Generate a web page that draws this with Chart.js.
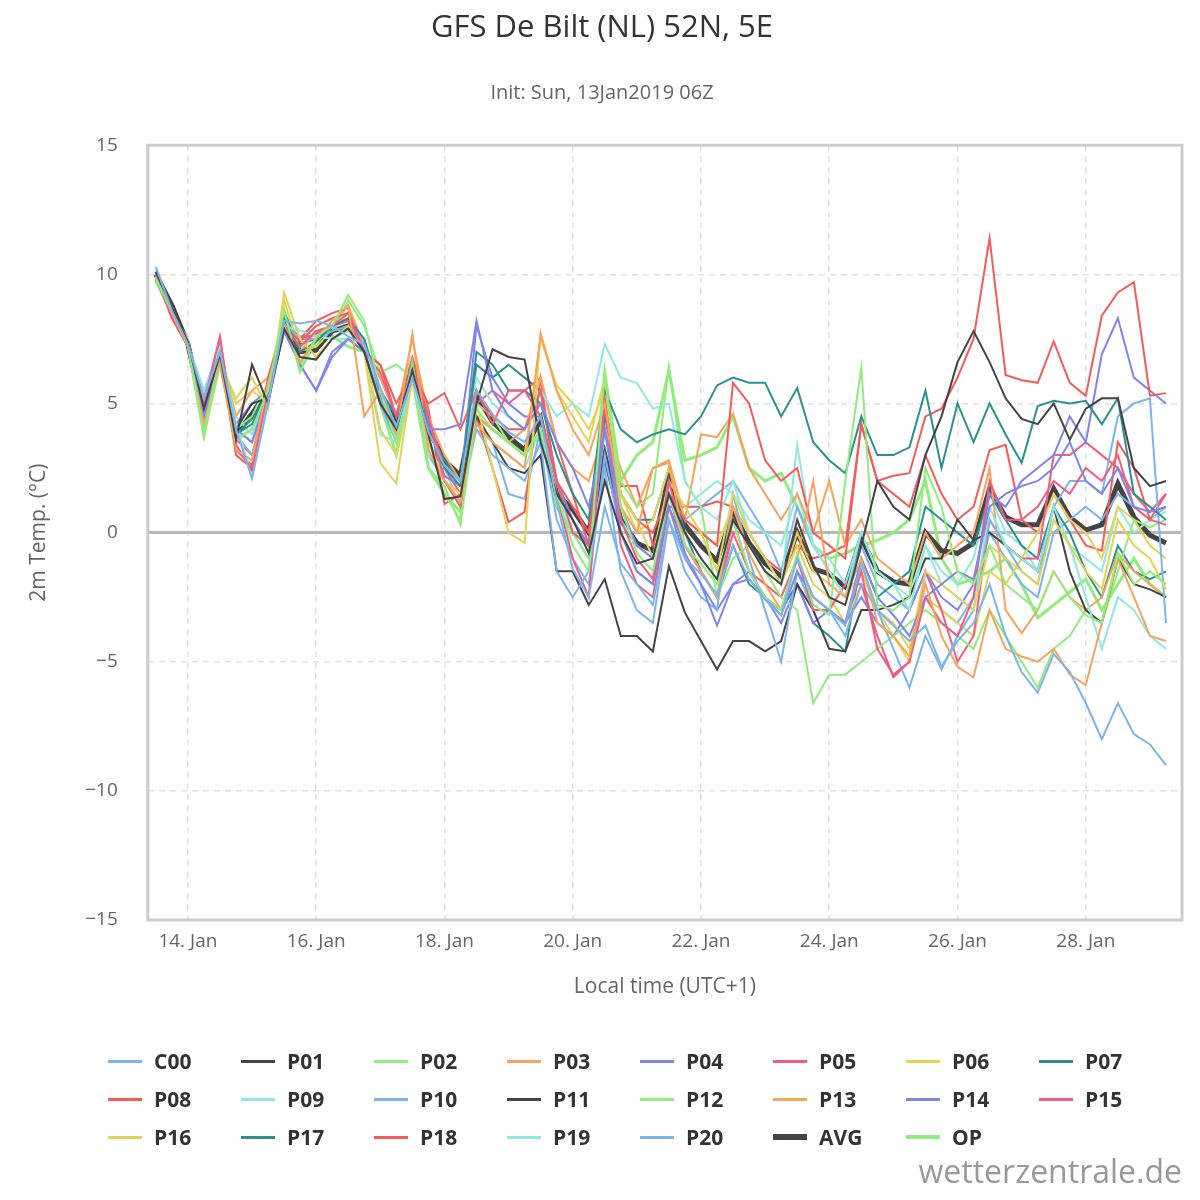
<!DOCTYPE html>
<html>
<head>
<meta charset="utf-8">
<script src="https://cdn.jsdelivr.net/npm/chart.js@4/dist/chart.umd.min.js"></script>
<style>
  body { margin: 0; background: #fff; }
  #wrap { position: relative; width: 1200px; height: 1200px; }
  #credit { position: absolute; right: 18px; bottom: 8px; font: 32px "Open Sans", sans-serif; color: #999; }
  #legend { position: absolute; left: 108px; top: 1048px; width: 1070px; display: grid;
            grid-template-columns: repeat(8, 133px); row-gap: 12px;
            font: bold 21px "Open Sans", sans-serif; color: #333; }
  #legend div { display: flex; align-items: center; height: 26px; }
  #legend span.sw { display: inline-block; width: 34px; margin-right: 12px; }
</style>
</head>
<body>
<div id="wrap">
  <canvas id="c" width="1200" height="1200"></canvas>
  <div id="legend"></div>
  <div id="credit">wetterzentrale.de</div>
</div>
<script>
// hours after 14 Jan 00:00 local time, one value every 6 h
const hours = [];
for (let i = 0; i < 64; i++) hours.push(-12 + 6 * i);

const tickHours = [0, 48, 96, 144, 192, 240, 288, 336];
const tickLabels = ['14. Jan', '16. Jan', '18. Jan', '20. Jan', '22. Jan', '24. Jan', '26. Jan', '28. Jan'];
const yTicks = [-15, -10, -5, 0, 5, 10, 15];

// members
const C00 = [10.3,8.6,7.3,5.2,7.0,4.0,2.1,5.0,8.2,8.1,8.2,8.0,7.6,7.3,5.6,4.1,6.0,3.9,2.6,2.0, 5.5,4.6,3.9,3.5,4.5,1.2,-1.4,-2.5,1.0,-1.2,-2.0,-2.8,0.5,-1.0,-1.6,-2.4,-0.5,-1.8,-2.6,-3.2,-1.0,-2.5,-3.0,-3.6,-1.2,-3.0,-3.6,-4.2,-3.6,-5.2,-4.2,-3.5,-2.0,-4.0,-5.4,-6.2,-4.7,-5.4,-6.6,-8.0,-6.6,-7.8,-8.2,-9.0];
const P01 = [10.1,8.7,7.4,4.8,6.9,3.6,6.5,5.0,7.9,6.8,6.7,7.5,7.9,7.0,5.0,4.0,6.3,3.8,1.3,1.4, 5.0,7.1,6.8,6.7,3.5,1.5,0.5,-0.8,2.0,0.0,-1.2,-1.0,1.5,0.0,-1.0,-1.8,0.5,-0.5,-1.5,-2.0,0.5,-1.2,-2.5,-2.8,-0.5,2.0,1.0,0.5,3.0,4.5,6.6,7.8,6.6,5.2,4.4,4.2,5.0,3.6,4.8,5.2,5.2,2.5,1.8,2.0];
const P02 = [9.8,8.6,7.3,3.8,7.0,3.6,4.0,5.5,8.6,6.2,7.6,8.0,9.2,8.2,5.5,3.5,6.6,2.5,1.8,0.3, 4.8,4.0,3.5,3.0,4.0,1.5,-0.5,-1.5,6.2,1.0,-0.8,-1.5,1.5,-0.5,-1.2,-2.0,0.5,-1.5,-2.5,-3.0,-0.8,-2.8,-3.2,2.0,6.4,-2.8,-3.0,-2.5,2.5,1.0,-1.5,-2.0,-0.5,-2.0,-2.5,-3.0,-1.5,-2.5,-3.2,-3.5,-0.8,-2.0,-1.5,-2.0];
const P03 = [9.9,8.5,7.2,4.2,6.6,3.2,2.8,5.8,8.0,6.6,7.5,8.2,8.8,4.5,5.5,3.8,7.7,3.2,2.0,1.2, 4.2,3.5,3.0,2.5,7.7,5.5,4.0,3.0,5.0,1.0,0.0,2.5,2.7,-0.5,-1.5,-2.5,1.0,-0.8,-2.0,-3.0,-1.0,2.0,-2.0,-2.5,-1.0,-3.5,-4.0,-4.8,-2.0,-4.0,-5.2,-5.6,-3.0,-4.5,-4.8,-5.0,-4.5,-5.5,-5.9,-3.5,-1.0,-2.5,-4.0,-4.2];
const P04 = [10.0,8.7,7.3,4.5,6.8,4.0,3.5,5.5,7.8,6.5,5.5,7.0,7.5,7.0,5.0,4.0,6.0,4.0,4.0,4.2, 8.2,5.5,4.5,4.0,5.0,3.5,2.5,1.0,4.0,1.0,-0.5,-1.0,1.5,-0.8,-2.0,-3.6,-2.0,-1.8,-2.5,-3.2,-1.5,-2.5,-3.0,-3.5,-1.0,-2.5,-3.2,-4.0,-2.5,-2.0,-1.5,-1.8,1.0,1.5,1.8,2.0,2.5,3.5,2.0,1.5,2.5,1.0,0.8,1.0];
const P05 = [10.0,8.4,7.3,5.0,7.6,3.4,2.4,5.5,8.0,7.2,7.8,8.0,8.5,7.0,6.2,4.5,6.5,4.5,2.0,1.0, 5.5,4.2,5.5,5.5,4.5,2.0,0.0,-0.5,5.2,0.5,-1.0,-1.8,2.0,-0.5,-1.5,-2.5,0.5,-1.5,-2.5,-3.0,-1.0,-3.0,-3.0,-3.5,-1.5,-4.5,-5.5,-5.0,-2.5,-3.5,-4.0,-2.5,2.0,0.5,0.5,1.0,2.0,1.5,2.5,2.0,3.0,1.0,0.5,0.3];
const P06 = [9.9,8.5,7.5,4.0,6.6,5.2,6.0,4.8,9.3,7.5,6.8,7.5,8.0,7.0,2.7,1.9,6.0,3.5,2.0,1.5, 5.0,2.5,0.0,-0.4,7.7,5.5,4.5,3.5,6.0,1.5,0.5,-1.0,2.0,1.0,0.0,-1.5,1.5,0.0,-1.0,-2.0,0.0,-1.5,-2.0,-2.5,-1.5,-3.0,-3.5,-4.5,-1.5,-2.0,-2.5,-3.0,-0.5,-1.0,-1.5,-2.0,0.5,-0.5,-1.5,-2.2,0.5,-0.5,-1.0,-2.2];
const P07 = [9.8,8.6,7.4,4.6,6.8,3.8,4.4,5.4,8.3,7.0,7.4,8.0,8.3,7.5,5.5,4.5,6.6,4.0,2.5,1.8, 7.0,6.5,5.5,5.5,5.0,3.0,1.5,0.5,5.5,4.0,3.5,3.8,4.0,3.8,4.5,5.7,6.0,5.8,5.8,4.5,5.6,3.5,2.8,2.3,4.5,3.0,3.0,3.3,5.5,2.5,5.0,3.5,5.0,3.8,2.7,4.9,5.1,5.0,5.1,4.2,5.2,1.5,1.0,0.5];
const P08 = [9.9,8.3,7.2,5.0,7.0,3.0,2.5,6.0,8.0,7.4,8.0,8.3,8.5,7.0,6.5,5.0,6.2,5.0,5.4,4.0, 5.5,4.5,4.0,4.0,5.5,2.0,1.0,0.0,5.0,1.5,0.5,0.0,1.5,0.5,0.0,-0.5,5.8,5.0,2.8,2.0,2.5,0.0,-0.5,-1.0,4.2,2.0,2.2,2.3,4.5,4.8,6.0,7.5,11.4,6.1,5.9,5.8,7.4,5.8,5.3,8.4,9.3,9.7,5.3,5.4];
const P09 = [10.2,8.6,7.3,5.5,7.2,4.2,2.2,5.2,8.0,7.8,7.6,7.5,7.8,7.2,5.5,3.5,6.0,3.0,2.5,2.0, 6.0,5.0,4.5,4.0,5.5,4.5,5.0,4.5,7.3,6.0,5.8,4.8,5.0,2.0,1.0,0.5,2.0,0.0,-1.0,-2.0,3.4,-0.5,-1.5,-2.5,0.0,-1.5,-2.0,-3.0,-0.5,-2.0,-2.5,-3.0,1.0,-0.5,-1.0,-1.5,1.0,-0.5,-2.5,-4.5,-2.5,-3.0,-4.0,-4.5];
const P10 = [10.0,8.6,7.4,5.0,6.8,3.8,3.0,5.0,8.2,7.5,7.5,7.8,8.0,7.5,5.0,3.5,6.0,3.0,2.0,1.5, 4.0,3.0,2.5,2.0,3.5,-1.5,-2.5,-1.5,2.5,-1.5,-3.0,-3.5,0.5,-1.5,-2.5,-3.0,1.5,-1.0,-3.0,-5.0,-1.5,-3.0,-3.0,-4.0,-2.0,-3.0,-4.5,-6.0,-4.0,-5.3,-4.0,-3.0,0.5,-0.5,-1.5,-2.0,1.0,2.0,2.0,1.5,4.5,5.0,5.2,-3.5];
const P11 = [10.0,8.7,7.3,4.8,6.9,4.0,5.0,5.2,8.0,7.0,7.0,7.8,8.0,7.0,5.5,4.5,6.0,4.0,2.5,2.0, 4.5,3.5,2.5,2.3,3.0,-1.5,-1.5,-2.8,-1.8,-4.0,-4.0,-4.6,-1.3,-3.1,-4.2,-5.3,-4.2,-4.2,-4.6,-4.2,-2.0,-3.0,-4.5,-4.6,-3.0,-3.0,-2.8,-2.5,-1.0,-1.0,0.5,-0.3,0.0,-0.5,-1.0,-1.5,1.0,-1.5,-3.0,-3.5,-1.0,-2.0,-2.2,-2.5];
const P12 = [9.7,8.5,7.2,3.7,6.5,4.0,4.5,5.8,8.5,6.5,7.5,7.8,9.0,8.0,6.2,6.5,6.0,2.5,1.5,0.5, 5.0,4.5,3.5,3.0,4.0,2.0,0.0,-1.0,5.8,2.0,1.0,1.5,6.4,2.0,1.0,-2.5,-1.0,-0.5,-1.5,-2.5,-3.0,-6.6,-5.5,-5.5,-5.0,-4.5,-4.0,-3.5,-3.0,-3.5,-4.0,-4.5,-3.0,-4.0,-5.0,-6.0,-4.5,-4.0,-3.0,-3.5,-1.5,0.5,0.2,0.5];
const P13 = [9.9,8.5,7.4,4.3,7.0,4.5,5.5,6.0,8.2,7.0,7.8,8.0,8.8,7.2,6.0,4.5,7.5,4.5,3.0,2.0, 4.5,4.0,3.5,4.0,6.0,3.5,2.5,2.0,4.0,2.5,1.0,2.5,2.8,0.5,3.8,3.7,4.6,2.5,1.5,0.5,1.5,0.0,2.0,-0.5,0.5,-1.0,-1.5,-2.0,0.0,-1.0,-0.5,0.0,2.5,-3.0,-3.9,-3.0,-1.5,-2.5,-3.0,-2.5,-0.8,-1.5,-2.0,-2.5];
const P14 = [10.1,8.6,7.3,4.8,6.8,4.2,5.0,5.5,7.8,6.5,5.5,6.8,7.5,7.0,5.0,3.8,6.5,4.2,2.2,1.8, 8.0,6.0,5.0,4.5,4.5,2.0,0.5,-0.5,4.0,0.0,-1.5,-2.0,1.0,-1.0,-2.0,-3.0,-2.0,-1.5,-2.5,-3.5,-2.0,-3.5,-3.0,-3.5,-2.5,-3.5,-4.0,-3.0,-1.5,-2.5,-3.0,-2.0,1.5,1.0,2.0,2.5,3.0,4.5,3.5,6.9,8.3,6.0,5.5,5.0];
const P15 = [10.0,8.5,7.3,5.2,7.5,3.6,3.0,5.5,8.2,7.5,7.7,8.0,8.2,7.0,6.0,4.5,6.2,4.5,2.5,1.5, 5.0,5.5,5.0,5.5,6.0,1.5,-1.0,-2.5,5.0,-0.5,-2.0,-2.5,1.0,-0.5,-1.5,-2.5,0.0,-1.5,-2.0,-2.5,-1.0,-2.5,-3.0,-2.0,-2.0,-4.0,-5.6,-5.0,-1.5,-3.0,-5.0,-4.0,0.5,-0.5,-1.0,-1.0,3.0,3.0,3.5,3.0,2.5,1.5,0.8,1.5];
const P16 = [9.9,8.6,7.4,4.5,6.8,5.0,5.5,5.0,9.0,7.0,7.2,7.8,8.5,7.2,4.0,3.0,6.5,3.5,2.0,1.5, 4.5,4.0,3.5,3.0,7.5,5.7,5.0,4.0,5.5,1.5,0.0,0.5,2.5,0.5,0.0,-0.5,1.0,0.0,-1.0,-2.0,-0.5,-2.0,-2.5,-3.5,-2.0,-3.0,-4.0,-5.0,-2.5,-3.0,-3.5,-4.0,-1.5,-2.0,-1.0,0.0,1.5,0.5,0.0,-1.0,1.0,0.5,-0.5,-1.0];
const P17 = [9.8,8.6,7.3,4.4,6.7,3.8,4.2,5.5,8.5,7.3,7.5,8.0,8.2,7.2,5.5,4.0,6.5,4.0,2.8,2.0, 6.5,6.0,6.5,6.0,5.5,2.0,0.5,-0.5,4.5,1.5,0.5,0.5,2.5,0.0,-1.5,-2.5,-0.5,-2.0,-2.5,-3.0,-2.0,-3.5,-4.0,-4.6,-1.0,-2.5,-2.0,-1.5,1.0,0.5,0.0,-0.5,1.5,0.5,-0.5,-1.0,1.0,0.0,-1.5,-2.5,-0.5,-1.5,-1.8,-1.5];
const P18 = [10.0,8.4,7.3,5.0,7.3,3.2,2.6,5.8,8.3,7.5,8.2,8.5,8.7,7.0,6.5,4.5,6.8,4.8,1.1,1.5, 4.5,2.5,0.4,0.8,6.0,3.5,1.5,-0.5,4.8,1.8,1.8,-0.5,1.0,1.0,1.0,1.2,1.0,0.0,-1.0,-1.5,-0.5,-1.0,-0.8,-0.5,4.2,2.0,1.5,1.0,3.0,1.5,0.5,1.0,3.2,3.4,0.5,0.0,1.5,0.5,-0.5,-0.7,3.5,2.5,0.5,1.5];
const P19 = [10.1,8.7,7.3,5.5,7.0,4.5,3.8,5.5,8.4,7.8,7.8,7.5,7.5,7.0,3.8,3.5,6.0,3.5,2.5,1.0, 4.0,3.5,3.0,2.5,4.0,1.5,0.0,-1.0,4.0,0.5,-0.5,-1.0,2.0,1.0,1.5,2.0,1.5,0.5,0.0,-0.5,1.5,-0.5,-1.0,-2.0,0.0,-1.5,-2.0,-2.5,-0.5,-1.5,-2.0,-1.0,1.5,0.0,-0.5,-1.5,0.5,-0.5,-1.0,-1.5,1.0,0.0,0.5,0.8];
const P20 = [10.0,8.6,7.3,5.2,7.0,4.0,3.5,5.2,8.0,7.6,7.6,7.8,8.0,7.3,5.2,3.5,6.0,3.5,2.2,1.8, 4.5,3.5,1.5,1.3,4.0,0.5,-1.0,-2.0,3.0,0.0,-1.5,-2.0,1.5,0.5,1.0,1.5,2.0,1.0,0.0,-1.5,1.0,-0.5,-1.5,-2.5,-0.5,-2.0,-2.5,-3.0,-1.5,-3.0,-3.5,-2.5,0.0,-1.0,-2.0,-2.5,0.0,0.5,1.0,0.5,1.5,1.0,0.5,1.0];
const AVG = [10.0,8.8,7.3,4.6,6.8,3.8,4.6,5.5,8.0,7.0,7.1,7.8,8.0,7.2,5.3,4.4,6.4,4.0,2.8,2.2, 5.3,4.3,3.7,3.2,4.4,1.5,0.9,0.0,3.0,0.5,-0.4,-0.7,2.2,0.3,-0.5,-1.1,0.8,-0.4,-1.2,-1.7,0.0,-1.4,-1.6,-2.1,-0.2,-1.5,-1.9,-2.0,0.0,-0.7,-0.8,-0.4,1.7,0.6,0.3,0.3,1.7,0.6,0.1,0.3,1.9,0.6,-0.1,-0.4];
const OP = [9.8,8.5,7.3,3.8,6.9,3.6,4.0,5.5,8.6,6.3,7.4,7.6,7.2,7.0,5.0,3.0,6.0,2.5,1.5,0.8, 4.5,4.0,3.5,3.0,3.8,1.0,0.0,-0.5,6.2,2.0,3.0,3.5,6.3,2.8,3.0,3.3,4.5,2.5,2.0,2.3,1.0,-0.5,-1.0,-0.8,-0.5,-0.3,0.0,0.5,2.0,-1.0,-2.0,-1.8,-1.5,-1.0,-2.0,-3.3,-2.8,-2.3,-1.8,-3.0,-2.0,-1.0,-2.0,-2.5];

const names = ['C00','P01','P02','P03','P04','P05','P06','P07','P08','P09','P10','P11','P12','P13','P14','P15','P16','P17','P18','P19','P20','AVG','OP'];
const series = [C00,P01,P02,P03,P04,P05,P06,P07,P08,P09,P10,P11,P12,P13,P14,P15,P16,P17,P18,P19,P20,AVG,OP];
const palette = ['#7cb5ec','#434348','#90ed7d','#f7a35c','#8085e9','#f15c80','#e4d354','#2b908f','#f45b5b','#91e8e1'];

const datasets = series.map((vals, k) => {
    let color = palette[k % 10];
    let width = 2;
    if (names[k] === 'AVG') { color = '#434348'; width = 5; }
    if (names[k] === 'OP') { color = '#90ed7d'; width = 3; }
    return {
        label: names[k],
        data: vals.map((v, i) => ({ x: hours[i], y: v })),
        borderColor: color,
        backgroundColor: color,
        borderWidth: width,
        pointRadius: 0,
        tension: 0
    };
});

// Legende als HTML-Raster (8 Spalten)
const legendBox = document.getElementById('legend');
datasets.forEach(d => {
    const item = document.createElement('div');
    const sw = document.createElement('span');
    sw.className = 'sw';
    sw.style.borderTop = (d.borderWidth + 1) + 'px solid ' + d.borderColor;
    item.appendChild(sw);
    item.appendChild(document.createTextNode(d.label));
    legendBox.appendChild(item);
});

// grauer Rahmen und Nulllinie
const frame = {
    id: 'frame',
    beforeDatasetsDraw(chart) {
        const a = chart.chartArea, ctx = chart.ctx;
        const y0 = chart.scales.y.getPixelForValue(0);
        ctx.save();
        ctx.strokeStyle = '#b8b8b8';
        ctx.lineWidth = 3;
        ctx.beginPath(); ctx.moveTo(a.left, y0); ctx.lineTo(a.right, y0); ctx.stroke();
        ctx.restore();
    },
    afterDraw(chart) {
        const a = chart.chartArea, ctx = chart.ctx;
        ctx.save();
        ctx.strokeStyle = '#cccccc';
        ctx.lineWidth = 3;
        ctx.strokeRect(a.left, a.top, a.right - a.left, a.bottom - a.top);
        ctx.restore();
    }
};

const font = '"Open Sans", "DejaVu Sans", sans-serif';

new Chart(document.getElementById('c'), {
    type: 'line',
    data: { datasets },
    plugins: [frame],
    options: {
        responsive: false,
        animation: false,
        layout: { padding: { left: 22, right: 18, top: 0, bottom: 200 } },
        plugins: {
            title: { display: true, text: 'GFS De Bilt (NL) 52N, 5E', color: '#333', font: { family: font, size: 31, weight: 'normal' }, padding: { top: 10, bottom: 34 } },
            subtitle: { display: true, text: 'Init: Sun, 13Jan2019 06Z', color: '#666', font: { family: font, size: 20 }, padding: { bottom: 40 } },
            legend: { display: false },
            tooltip: { enabled: false }
        },
        scales: {
            x: {
                type: 'linear', min: -15, max: 372,
                afterBuildTicks(ax) { ax.ticks = tickHours.map(v => ({ value: v })); },
                ticks: { color: '#666', font: { family: font, size: 19 }, padding: 10,
                    callback: v => tickLabels[tickHours.indexOf(v)] },
                grid: { color: '#e0e0e0', lineWidth: 1.5, drawTicks: false },
                border: { dash: [6, 5], display: false },
                title: { display: true, text: 'Local time (UTC+1)', color: '#666', font: { family: font, size: 21 }, padding: { top: 12, bottom: 0 } }
            },
            y: {
                min: -15, max: 15,
                afterBuildTicks(ax) { ax.ticks = yTicks.map(v => ({ value: v })); },
                ticks: { color: '#666', font: { family: font, size: 19 }, padding: 30,
                    callback: v => (v < 0 ? '\u2212' + Math.abs(v) : String(v)) },
                grid: {
                    color: c => (c.tick && c.tick.value === 0 ? 'rgba(0,0,0,0)' : '#e0e0e0'),
                    lineWidth: 1.5,
                    drawTicks: false
                },
                border: { dash: [6, 5], display: false },
                title: { display: true, text: '2m Temp. (°C)', color: '#666', font: { family: font, size: 21 }, padding: { bottom: 4 } }
            }
        }
    }
});
</script>
</body>
</html>
